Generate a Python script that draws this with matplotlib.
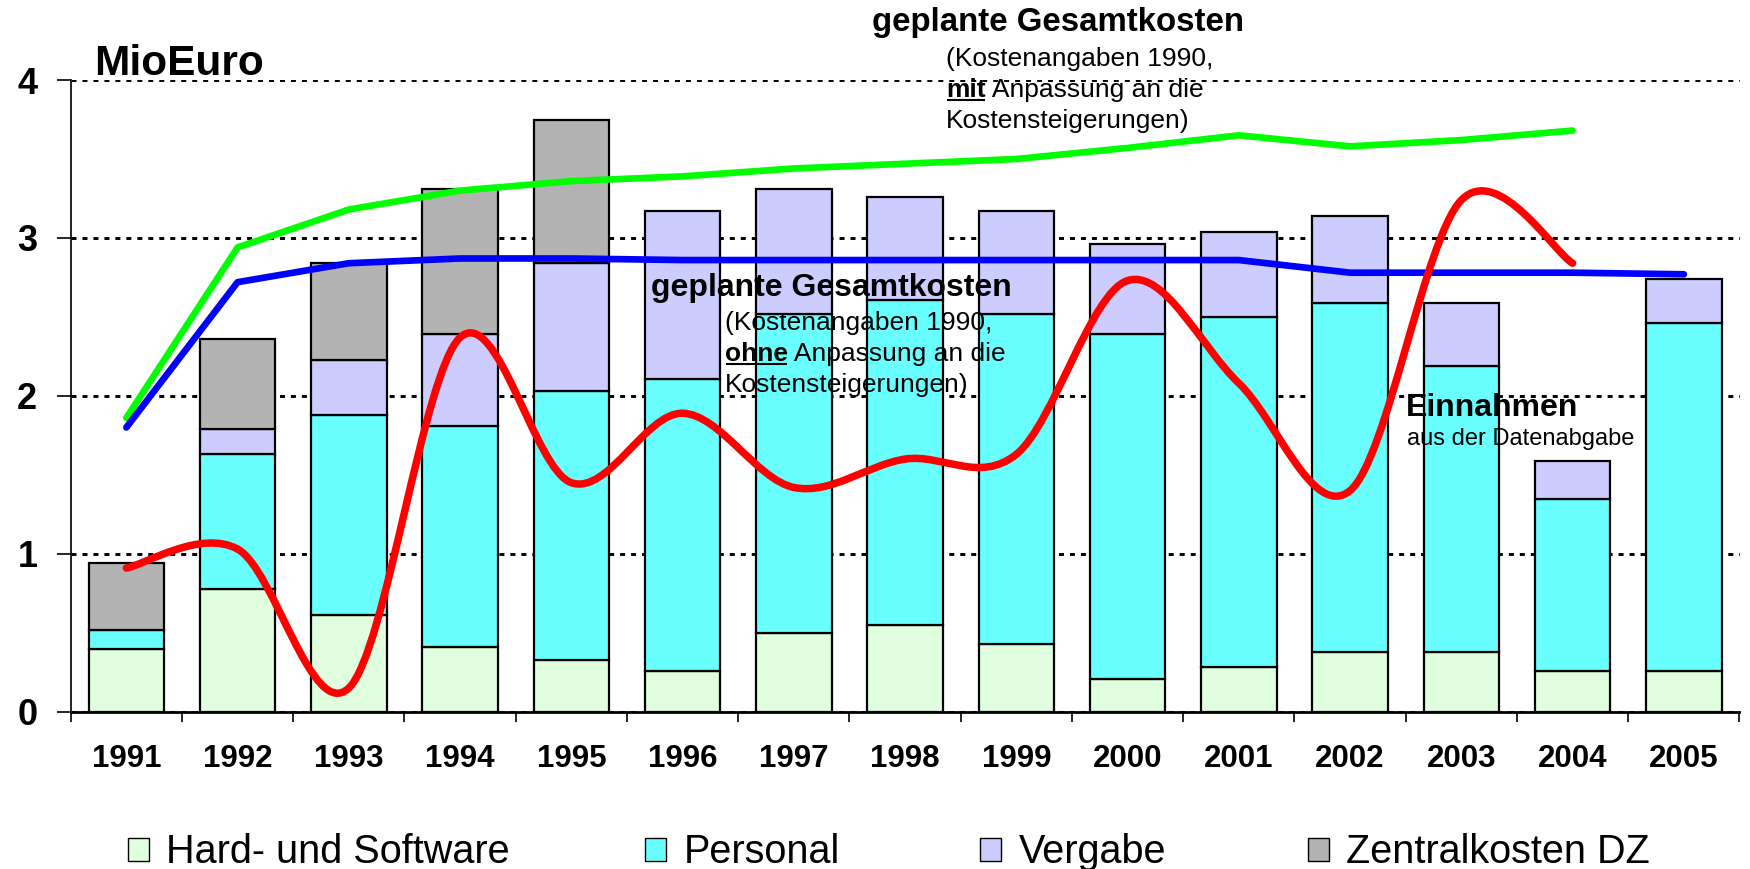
import numpy as np
import matplotlib
matplotlib.use("Agg")
import matplotlib.pyplot as plt
from matplotlib.path import Path
from matplotlib.patches import PathPatch, Patch

plt.rcParams['font.family'] = ['Liberation Sans', 'DejaVu Sans']
plt.rcParams['lines.scale_dashes'] = False

years = ['1991', '1992', '1993', '1994', '1995', '1996', '1997', '1998',
         '1999', '2000', '2001', '2002', '2003', '2004', '2005']

# stacked cost components (Mio Euro)
hard_software = [0.40, 0.78, 0.61, 0.41, 0.33, 0.26, 0.50, 0.55, 0.43, 0.21, 0.28, 0.38, 0.38, 0.26, 0.26]
personal = [0.12, 0.85, 1.27, 1.40, 1.70, 1.85, 2.02, 2.06, 2.09, 2.18, 2.22, 2.21, 1.81, 1.09, 2.20]
vergabe = [0.00, 0.16, 0.35, 0.58, 0.81, 1.06, 0.79, 0.65, 0.65, 0.57, 0.54, 0.55, 0.40, 0.24, 0.28]
zentral = [0.42, 0.57, 0.61, 0.92, 0.91, 0, 0, 0, 0, 0, 0, 0, 0, 0, 0]

# planned totals (mit / ohne Anpassung) and revenue
plan_mit = [1.86, 2.94, 3.18, 3.30, 3.36, 3.39, 3.44, 3.47, 3.50, 3.57, 3.65, 3.58, 3.62, 3.68]
plan_ohne = [1.80, 2.72, 2.84, 2.87, 2.87, 2.86, 2.86, 2.86, 2.86, 2.86, 2.86, 2.78, 2.78, 2.78, 2.77]
einnahmen = [0.91, 1.03, 0.15, 2.37, 1.45, 1.89, 1.42, 1.60, 1.63, 2.73, 2.08, 1.40, 3.24, 2.84]

series_names = ['Hard- und Software', 'Personal', 'Vergabe', 'Zentralkosten DZ']
series_colors = ['#DFFFDF', '#69FFFF', '#CCCCFF', '#B3B3B3']


def smooth_path(xs, ys):
    # Excel-like smoothed line as cubic Bezier segments through the points
    pts = np.column_stack([xs, ys]).astype(float)
    n = len(pts)
    verts = [pts[0]]
    codes = [Path.MOVETO]
    for i in range(n - 1):
        p0 = pts[max(i - 1, 0)]
        p1 = pts[i]
        p2 = pts[i + 1]
        p3 = pts[min(i + 2, n - 1)]
        verts += [p1 + (p2 - p0) / 6.0, p2 - (p3 - p1) / 6.0, p2]
        codes += [Path.CURVE4] * 3
    return Path(verts, codes)


fig = plt.figure(figsize=(17.5, 8.69), dpi=100)
ax = fig.add_axes([0.0404, 0.1810, 0.9536, 0.7269])

x = np.arange(len(years))
bottom = np.zeros(len(years))
for vals, name, col in zip([hard_software, personal, vergabe, zentral], series_names, series_colors):
    vals = np.array(vals)
    bc = ax.bar(x, vals, width=0.68, bottom=bottom, color=col, edgecolor='black',
                linewidth=1.6, zorder=2)
    for p, v in zip(bc.patches, vals):
        if v == 0:
            p.set_visible(False)
    bottom = bottom + vals

ax.plot(x[:len(plan_mit)], plan_mit, color='#00FF00', lw=4.8, zorder=3,
        solid_capstyle='round', solid_joinstyle='round')
ax.plot(x, plan_ohne, color='#0000FF', lw=4.8, zorder=3,
        solid_capstyle='round', solid_joinstyle='round')
ax.add_patch(PathPatch(smooth_path(x[:len(einnahmen)], einnahmen), fill=False,
                       edgecolor='#FF0000', lw=5.4, capstyle='round', joinstyle='round', zorder=3))

ax.set_xlim(-0.5, len(years) - 0.5)
ax.set_ylim(0, 4)

# axes styling
for s in ['top', 'right']:
    ax.spines[s].set_visible(False)
ax.spines['left'].set_linewidth(1.2)
ax.spines['bottom'].set_linewidth(2.0)
ax.set_axisbelow(True)
ax.yaxis.grid(True, color='black', linestyle=(0, (3.6, 4.3)), linewidth=2.1)
ax.set_yticks([0, 1, 2, 3, 4])
ax.set_yticklabels(['0', '1', '2', '3', '4'], fontsize=26, fontweight='bold')
ax.tick_params(axis='y', direction='out', length=10, width=1.2, pad=14)
ax.set_xticks(x)
ax.set_xticklabels(years, fontsize=22.5, fontweight='bold')
ax.tick_params(axis='x', which='major', length=0, pad=23)
ax.set_xticks(np.arange(-0.5, len(years)), minor=True)
ax.tick_params(axis='x', which='minor', direction='out', length=7.2, width=1.2)

# annotations
ax.text(-0.29, 4.03, 'MioEuro', fontsize=30.5, fontweight='bold', va='baseline', clip_on=False)

renderer = fig.canvas.get_renderer()
inv = ax.transData.inverted()


def mixed_line(x0, y0, bold_word, rest, size):
    t = ax.text(x0, y0, bold_word, fontsize=size, fontweight='bold', va='baseline',
                ha='left', zorder=5, clip_on=False)
    bb = t.get_window_extent(renderer)
    x1 = inv.transform((bb.x1, bb.y0))[0]
    xs = inv.transform((bb.x0, bb.y0))[0]
    ax.text(x1, y0, rest, fontsize=size, va='baseline', ha='left', zorder=5, clip_on=False)
    base_px = ax.transData.transform((x0, y0))[1]
    uy = inv.transform((0, base_px - 3.5))[1]
    ax.plot([xs + 0.01, x1 - 0.01], [uy, uy], color='black', lw=1.5, zorder=5,
            clip_on=False, solid_capstyle='butt')


def cost_note(tx, ty, sx, sy, word, size):
    ax.text(tx, ty, 'geplante Gesamtkosten', fontsize=size, fontweight='bold',
            va='baseline', ha='left', zorder=5, clip_on=False)
    ax.text(sx, sy, '(Kostenangaben 1990,', fontsize=19, va='baseline', ha='left',
            zorder=5, clip_on=False)
    mixed_line(sx, sy - 0.197, word, ' Anpassung an die', 19)
    ax.text(sx, sy - 0.394, 'Kostensteigerungen)', fontsize=19, va='baseline', ha='left',
            zorder=5, clip_on=False)


cost_note(6.70, 4.31, 7.37, 4.09, 'mit', 23.8)
cost_note(4.72, 2.63, 5.38, 2.42, 'ohne', 23)

ax.text(11.50, 1.87, 'Einnahmen', fontsize=23, fontweight='bold', va='baseline', zorder=5)
ax.text(11.51, 1.69, 'aus der Datenabgabe', fontsize=17, va='baseline', zorder=5)

# legend: one entry per block to match spacing
leg_x = [0.0731, 0.3686, 0.560, 0.7474]
for name, col, lx in zip(series_names, series_colors, leg_x):
    h = Patch(facecolor=col, edgecolor='black', linewidth=1.0)
    fig.legend(handles=[h], labels=[name], loc='center left', bbox_to_anchor=(lx, 0.019),
               frameon=False, fontsize=28.5, handlelength=0.52, handleheight=0.52,
               handletextpad=0.45, borderpad=0, borderaxespad=0)

fig.savefig('out.png', dpi=100)
